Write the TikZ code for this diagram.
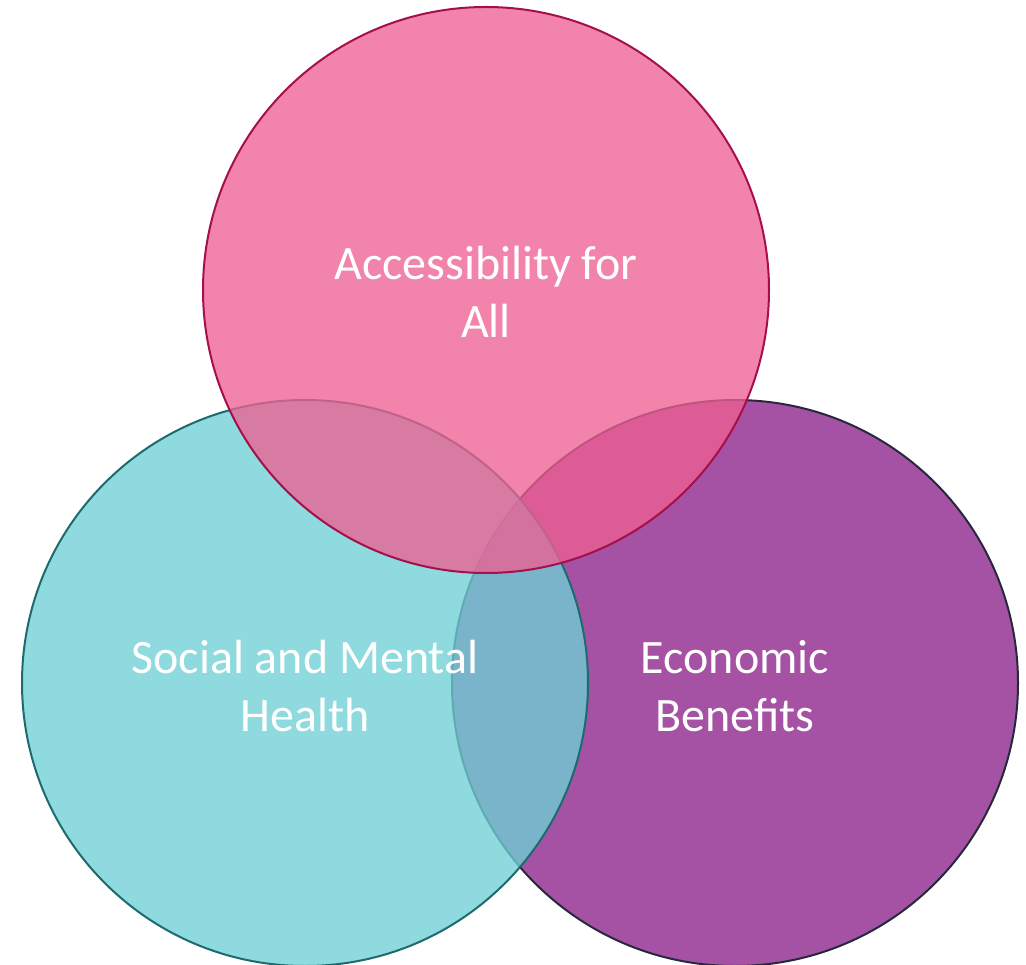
\documentclass[tikz,border=0pt]{standalone}
\usepackage{fontspec}
\setmainfont{Carlito}
\definecolor{pinkfill}{RGB}{238,96,147}
\definecolor{pinkline}{RGB}{165,15,75}
\definecolor{tealfill}{RGB}{110,208,213}
\definecolor{tealline}{RGB}{29,107,110}
\definecolor{purplefill}{RGB}{165,82,165}
\definecolor{purpleline}{RGB}{39,40,60}
\begin{document}
\begin{tikzpicture}[x=1pt,y=-1pt,
  setcircle/.style={circle, minimum size=566pt, inner sep=0pt, line width=2pt},
  label/.style={text=white, align=center, font=\fontsize{48}{58}\selectfont}]
\useasboundingbox (0,0) rectangle (1026,965);
\node[setcircle, draw=purpleline, fill=purplefill] (econ) at (735,683) {};
\node[setcircle, draw=tealline, fill=tealfill, fill opacity=0.78] (social) at (305,683) {};
\node[setcircle, draw=pinkline, fill=pinkfill, fill opacity=0.78] (access) at (486,290) {};
\node[label] (accesst) at (486,292) {Accessibility for\\All};
\node[label] (socialt) at (305,686) {Social and Mental\\Health};
\node[label] (econt) at (735,686) {Economic\\Benefits};
\end{tikzpicture}
\end{document}
